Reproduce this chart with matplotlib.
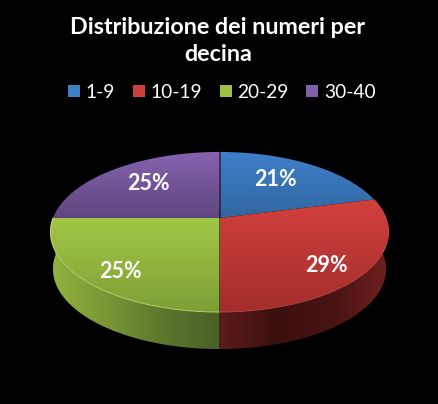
import numpy as np
import matplotlib
matplotlib.use("Agg")
from matplotlib import pyplot as plt
from matplotlib.patches import Polygon, Patch
from matplotlib.colors import to_rgb

# Data
labels = ['1-9', '10-19', '20-29', '30-40']
values = [21, 29, 25, 25]
title = 'Distribuzione dei numeri per\ndecina'

# Colours: top face light/dark, legend
top_light = ['#3f7fcb', '#d2403d', '#a3c746', '#8763b0']
top_dark = ['#30679f', '#a32e2c', '#7f9f36', '#5f4680']
legend_colors = ['#3f7fc4', '#cc3f3c', '#9fc045', '#7f5fa8']
wall_stops = {1: ['#5c1b19', '#3b100f', '#481413', '#70211f'],
              2: ['#93b340', '#7a9635', '#5d772c', '#4a6026']}

# Pie geometry in pixels (perspective circle)
cx, cy = 219.5, 218
a, b, k = 166.5, 77.6, 0.175
depth = 37

def rim(t):
    w = 1 + k * np.sin(t)
    return cx + a * np.cos(t) / w, cy - b * np.sin(t) / w

def gradient_fill(ax, xs, ys, stops, vertical=True, z=1):
    poly = Polygon(np.column_stack([xs, ys]), closed=True, fc='none', ec='none')
    ax.add_patch(poly)
    rgb = np.array([to_rgb(c) for c in stops])
    pos = np.linspace(0, 1, 128)
    ramp = np.column_stack([np.interp(pos, np.linspace(0, 1, len(stops)), rgb[:, i]) for i in range(3)])
    img = ramp[:, None, :] if vertical else ramp[None, :, :]
    im = ax.imshow(img, extent=(min(xs), max(xs), max(ys), min(ys)), aspect='auto',
                   origin='upper', zorder=z, interpolation='bilinear')
    im.set_clip_path(poly)

fig = plt.figure(figsize=(4.38, 4.04), dpi=100, facecolor='black')
ax = fig.add_axes([0, 0, 1, 1])
ax.set_facecolor('black')

# slice angles, clockwise from 12 o'clock
fracs = np.array(values) / sum(values)
edges = np.pi / 2 - 2 * np.pi * np.concatenate([[0], np.cumsum(fracs)])

# side walls (only the front ones can be seen)
for i in wall_stops:
    t = np.linspace(edges[i], edges[i + 1], 120)
    x, y = rim(t)
    xb = cx + (x - cx) * 0.985
    yb = y + depth
    gradient_fill(ax, np.r_[x, xb[::-1]], np.r_[y, yb[::-1]], wall_stops[i], vertical=False, z=1)

# top face
for i in range(len(values)):
    t = np.linspace(edges[i], edges[i + 1], 120)
    x, y = rim(t)
    xs = np.r_[cx, x]
    ys = np.r_[cy, y]
    gradient_fill(ax, xs, ys, [top_light[i], top_dark[i]], z=2)

# light edge along the front rim
t = np.linspace(edges[2], edges[3], 120)
ax.plot(*rim(t), color='#c3dc78', lw=0.6, zorder=3)
t = np.linspace(edges[1], edges[2], 120)
ax.plot(*rim(t), color='#c4504c', lw=0.5, zorder=3)
# dark line between last and first slice
ax.plot(*zip((cx, cy), rim(np.pi / 2)), color='#1c2c50', lw=0.6, zorder=3)

# percent labels
label_x = [275, 326, 120, 148]
label_y = [180, 265, 271, 183]
for v, lx, ly in zip(values, label_x, label_y):
    ax.text(lx, ly, f'{v}%', color='white', fontsize=15.5, fontweight='bold',
            family='Lato', ha='center', va='center', zorder=5)

ax.set_xlim(0, 438)
ax.set_ylim(404, 0)
ax.axis('off')

# title and legend
ax.text(218, 41, title, color='white', fontsize=16.8, fontweight='bold', family='Lato',
        ha='center', va='center', linespacing=1.33)
handles = [Patch(fc=c, ec='none') for c in legend_colors]
ax.legend(handles, labels, ncol=4, loc='center', bbox_to_anchor=(222 / 438, 1 - 92.5 / 404),
          frameon=False, labelcolor='white', handlelength=0.62, handleheight=0.62,
          handletextpad=0.3, columnspacing=0.92, prop={'family': 'Lato', 'size': 13.8})

fig.savefig('out.png', dpi=100, facecolor='black')
